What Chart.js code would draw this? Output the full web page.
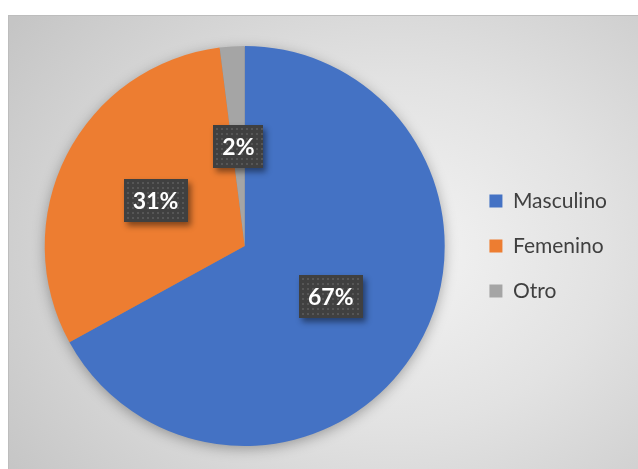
<!DOCTYPE html>
<html>
<head>
<meta charset="utf-8">
<script src="https://cdn.jsdelivr.net/npm/chart.js@4/dist/chart.umd.min.js"></script>
<style>
  body { margin: 0; background: #ffffff; }
  #wrap {
    position: absolute;
    left: 8px;
    top: 15px;
    width: 630px;
    height: 454px;
    border-top: 1px solid #bdbdbd;
    border-left: 1px solid #bdbdbd;
    background: radial-gradient(ellipse 75% 85% at 61% 52%, #f4f4f4 0%, #e2e2e2 45%, #c5c5c5 100%);
  }
</style>
</head>
<body>
<div id="wrap"><canvas id="pieChart"></canvas></div>
<script>
const categories = ["Masculino", "Femenino", "Otro"];
const values = [67, 31, 2];
const sliceColors = ["#4472C4", "#ED7D31", "#A5A5A5"];

// Soft shadow under the whole pie
const pieShadow = {
  id: "pieShadow",
  beforeDatasetsDraw(chart) {
    const arc = chart.getDatasetMeta(0).data[0];
    if (!arc) return;
    const ctx = chart.ctx;
    ctx.save();
    ctx.shadowColor = "rgba(0, 0, 0, 0.35)";
    ctx.shadowBlur = 14;
    ctx.shadowOffsetY = 3;
    ctx.fillStyle = "#888888";
    ctx.beginPath();
    ctx.arc(arc.x, arc.y, arc.outerRadius - 1, 0, Math.PI * 2);
    ctx.fill();
    ctx.restore();
  },
};

// Dark textured callout boxes with percentage
const sliceLabels = {
  id: "sliceLabels",
  afterDatasetsDraw(chart) {
    const ctx = chart.ctx;
    const meta = chart.getDatasetMeta(0);
    ctx.save();
    ctx.font = "bold 23px Lato";
    ctx.textAlign = "center";
    ctx.textBaseline = "middle";
    meta.data.forEach((arc, i) => {
      const pos = arc.tooltipPosition();
      const text = values[i] + "%";
      const w = Math.round(ctx.measureText(text).width) + 18;
      const h = 43;
      const x = Math.round(pos.x - w / 2);
      const y = Math.round(pos.y - h / 2);

      ctx.save();
      ctx.shadowColor = "rgba(0, 0, 0, 0.45)";
      ctx.shadowBlur = 6;
      ctx.shadowOffsetX = 3;
      ctx.shadowOffsetY = 4;
      ctx.fillStyle = "#404040";
      ctx.fillRect(x, y, w, h);
      ctx.restore();

      // dot texture
      ctx.fillStyle = "#565656";
      for (let dx = 3; dx < w - 1; dx += 5) {
        for (let dy = 3; dy < h - 1; dy += 5) {
          ctx.fillRect(x + dx, y + dy, 2, 2);
        }
      }

      ctx.fillStyle = "#ffffff";
      ctx.fillText(text, pos.x, pos.y + 1);
    });
    ctx.restore();
  },
};

const pieCtx = document.getElementById("pieChart").getContext("2d");
const pieChart = new Chart(pieCtx, {
  type: "pie",
  data: {
    labels: categories,
    datasets: [
      {
        data: values,
        backgroundColor: sliceColors,
        borderWidth: 0,
      },
    ],
  },
  options: {
    responsive: true,
    maintainAspectRatio: false,
    animation: false,
    layout: {
      padding: { left: 15, right: 22, top: 30, bottom: 24 },
    },
    plugins: {
      tooltip: { enabled: false },
      legend: {
        position: "right",
        labels: {
          boxWidth: 13,
          boxHeight: 13,
          padding: 24,
          color: "#404040",
          font: { family: "Lato", size: 21 },
        },
      },
    },
  },
  plugins: [pieShadow, sliceLabels],
});
</script>
</body>
</html>
